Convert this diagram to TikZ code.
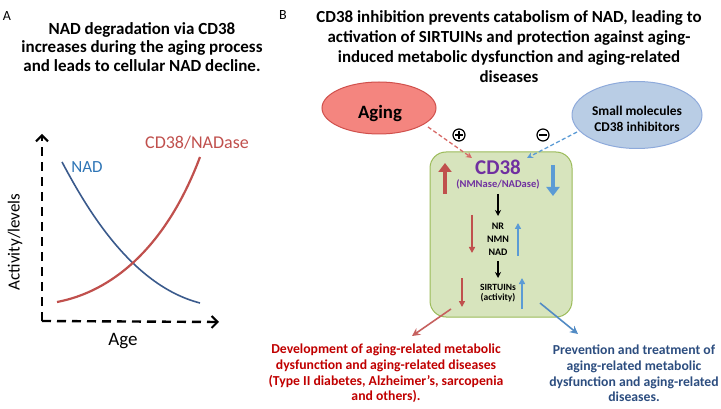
\documentclass[tikz,border=0pt]{standalone}
\usepackage{fontspec}
\setmainfont{Carlito}
\usetikzlibrary{arrows.meta,shapes.geometric}
\definecolor{cred}{HTML}{C0504D}
\definecolor{cnavy}{HTML}{3A5A8C}
\definecolor{nadlbl}{HTML}{2E75B6}
\definecolor{agefill}{HTML}{F4857F}
\definecolor{agedraw}{HTML}{D0504C}
\definecolor{smfill}{HTML}{B9CDE5}
\definecolor{smdraw}{HTML}{8EAADB}
\definecolor{boxfill}{HTML}{D7E4BD}
\definecolor{boxdraw}{HTML}{9BBB59}
\definecolor{cpurple}{HTML}{7030A0}
\definecolor{lblue}{HTML}{5B9BD5}
\definecolor{dred}{HTML}{C00000}
\definecolor{dblue}{HTML}{2C4D7F}
\begin{document}
\begin{tikzpicture}[x=1pt,y=-1pt,
  lbl/.style={inner sep=0pt,align=center},
  axis/.style={line width=2.4pt,dash pattern=on 9pt off 6pt,-{Straight Barb[length=6pt,width=12pt,line width=2pt]}},
  bigarr/.style={line width=4.5pt,-{Triangle[length=9pt,width=13pt]}},
  smallarr/.style={line width=1.5pt,-{Triangle[length=6pt,width=6pt]}},
  blackarr/.style={line width=1.3pt,black,-{Stealth[length=6pt,width=6pt]}},
  dasharr/.style={line width=1.3pt,dash pattern=on 4pt off 2.5pt,-{Stealth[length=6pt,width=6pt]}},
  diagarr/.style={line width=1.6pt,-{Stealth[length=8pt,width=8pt]}}
]
\useasboundingbox (0,0) rectangle (721,409);

% ---------- Panel A ----------
\node[lbl,font=\fontsize{14}{16}\selectfont] (A) at (7,16) {A};
\node[lbl,font=\fontsize{17}{18.5}\selectfont\bfseries] (titleA) at (142,47) {NAD degradation via CD38\\increases during the aging process\\and leads to cellular NAD decline.};

\coordinate (origin) at (42,321);
\coordinate (ytip) at (42,134);
\coordinate (xtip) at (219,322);
\draw[axis] (origin) -- (ytip);
\draw[axis] (origin) -- (xtip);

\node[lbl,rotate=90,font=\fontsize{17}{20}\selectfont] (ylab) at (15,242) {Activity/levels};
\node[lbl,font=\fontsize{19}{22}\selectfont] (xlab) at (123,341) {Age};

\coordinate (nadS) at (62,162);
\coordinate (nadE) at (200,303);
\coordinate (cdS) at (57,302);
\coordinate (cdE) at (200,157);
\draw[cnavy,line width=1.6pt] (nadS) .. controls (85,205) and (130,285) .. (nadE);
\draw[cred,line width=2.2pt] (cdS) .. controls (110,292) and (165,250) .. (cdE);
\node[lbl,text=nadlbl,font=\fontsize{17}{20}\selectfont] (nadlab) at (87,167) {NAD};
\node[lbl,text=cred,font=\fontsize{18}{21}\selectfont] (cdlab) at (197,143) {CD38/NADase};

% ---------- Panel B ----------
\node[lbl,font=\fontsize{14}{16}\selectfont] (B) at (283,15) {B};
\node[lbl,font=\fontsize{16.9}{20}\selectfont\bfseries] (titleB) at (509,47) {CD38 inhibition prevents catabolism of NAD, leading to\\activation of SIRTUINs and protection against aging-\\induced metabolic dysfunction and aging-related\\diseases};

\node[ellipse,draw=agedraw,fill=agefill,line width=1pt,minimum width=114pt,minimum height=52pt,inner sep=0pt] (aging) at (379,108) {};
\node[lbl,font=\fontsize{18.8}{21}\selectfont\bfseries] (agingtxt) at (380,113) {Aging};

\node[ellipse,draw=smdraw,fill=smfill,line width=1pt,minimum width=130pt,minimum height=67pt,inner sep=0pt] (small) at (637,115) {};
\node[lbl,font=\fontsize{13.4}{16}\selectfont\bfseries] (smalltxt) at (637,119) {Small molecules\\CD38 inhibitors};

\node[draw=boxdraw,fill=boxfill,line width=1pt,rounded corners=16pt,minimum width=142pt,minimum height=165pt,inner sep=0pt] (box) at (501,234.5) {};

\node[circle,draw,line width=1.2pt,minimum size=12pt,inner sep=0pt] (plus) at (459,135) {};
\draw[line width=1.2pt] (455,135) -- (463,135) (459,131) -- (459,139);
\node[circle,draw,line width=1.2pt,minimum size=12pt,inner sep=0pt] (minus) at (543,135) {};
\draw[line width=1.2pt] (539,135) -- (547,135);

\node[lbl,text=cpurple,font=\fontsize{21}{24}\selectfont\bfseries] (cd38) at (498,167) {CD38};
\node[lbl,text=cpurple,font=\fontsize{10.5}{12}\selectfont\bfseries] (nmnase) at (498,184) {(NMNase/NADase)};

\coordinate (agS) at (428,127);
\coordinate (agE) at (472,158);
\coordinate (smS) at (577,132);
\coordinate (smE) at (527,158);
\draw[dasharr,color=agedraw!85] (agS) -- (agE);
\draw[dasharr,color=lblue] (smS) -- (smE);

\coordinate (rbS) at (445,194);
\coordinate (rbE) at (445,163);
\coordinate (bbS) at (553,165);
\coordinate (bbE) at (553,196);
\draw[bigarr,cred] (rbS) -- (rbE);
\draw[bigarr,lblue] (bbS) -- (bbE);

\node[lbl,font=\fontsize{10}{12}\selectfont\bfseries] (nr) at (498,226) {NR};
\node[lbl,font=\fontsize{10}{12}\selectfont\bfseries] (nmn) at (498,239) {NMN};
\node[lbl,font=\fontsize{10}{12}\selectfont\bfseries] (nad) at (498,252) {NAD};
\node[lbl,font=\fontsize{9.5}{12}\selectfont\bfseries] (sirt) at (498,287) {SIRTUINs};
\node[lbl,font=\fontsize{9.5}{12}\selectfont\bfseries] (act) at (498,298) {(activity)};

\coordinate (k1S) at (498,194);
\coordinate (k1E) at (498,216);
\coordinate (k2S) at (498,261);
\coordinate (k2E) at (498,278);
\draw[blackarr] (k1S) -- (k1E);
\draw[blackarr] (k2S) -- (k2E);

\coordinate (r1S) at (472,215);
\coordinate (r1E) at (472,253);
\coordinate (b1S) at (518,256);
\coordinate (b1E) at (518,223);
\coordinate (r2S) at (462,278);
\coordinate (r2E) at (462,307);
\coordinate (b2S) at (522,309);
\coordinate (b2E) at (522,278);
\draw[smallarr,cred] (r1S) -- (r1E);
\draw[smallarr,lblue] (b1S) -- (b1E);
\draw[smallarr,cred] (r2S) -- (r2E);
\draw[smallarr,lblue] (b2S) -- (b2E);

\node[lbl,text=dred,font=\fontsize{13.7}{15.8}\selectfont\bfseries] (redtxt) at (386,373.5) {Development of aging-related metabolic\\dysfunction and aging-related diseases\\(Type II diabetes, Alzheimer’s, sarcopenia\\and others).};
\node[lbl,text=dblue,font=\fontsize{13.7}{15.8}\selectfont\bfseries] (bluetxt) at (634,373.5) {Prevention and treatment of\\aging-related metabolic\\dysfunction and aging-related\\diseases.};

\coordinate (drS) at (451,309);
\coordinate (drE) at (412,336);
\coordinate (dbS) at (540,303);
\coordinate (dbE) at (578,334);
\draw[diagarr,color=cred!90] (drS) -- (drE);
\draw[diagarr,color=lblue!80!dblue] (dbS) -- (dbE);
\end{tikzpicture}
\end{document}
